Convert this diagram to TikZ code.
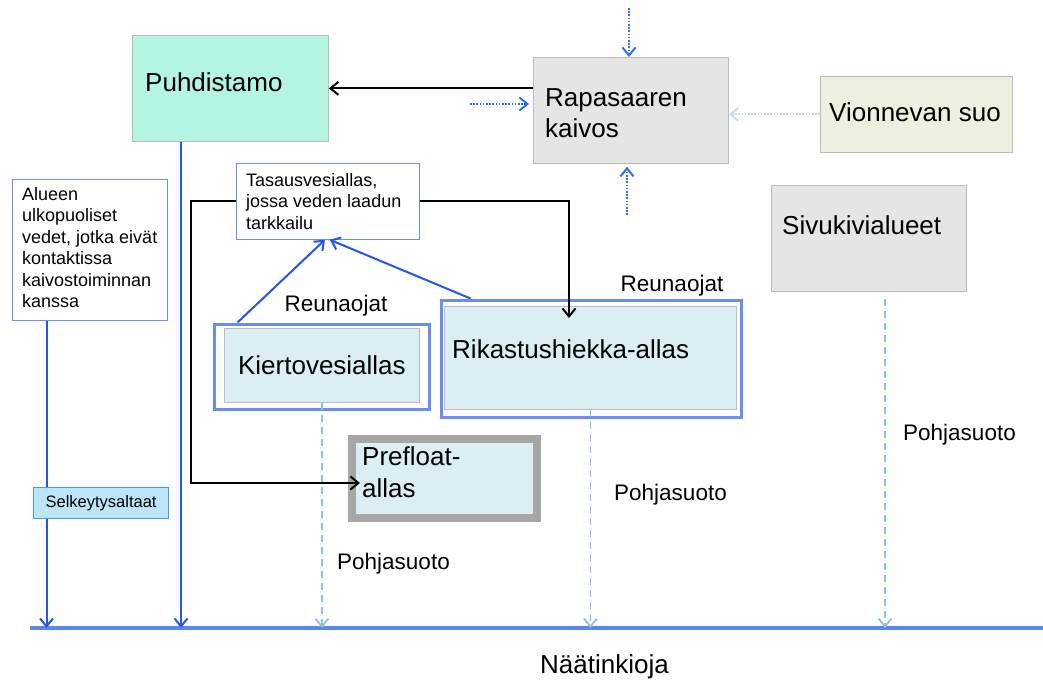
\documentclass[tikz,border=0pt]{standalone}
\usepackage{fontspec}
\setmainfont{Liberation Sans}
\usetikzlibrary{arrows.meta}

\definecolor{mint}{HTML}{B4F5E2}
\definecolor{minegrey}{HTML}{E5E5E5}
\definecolor{boxedge}{HTML}{BBBBBB}
\definecolor{suogreen}{HTML}{EBF1DE}
\definecolor{poolblue}{HTML}{DAEEF3}
\definecolor{innergrey}{HTML}{BDBDBD}
\definecolor{edgeblue}{HTML}{6A8DF2}
\definecolor{flowblue}{HTML}{2456EE}
\definecolor{dotblue}{HTML}{2F6BF2}
\definecolor{seepcyan}{HTML}{8BC4DA}
\definecolor{faintblue}{HTML}{C6DCEE}
\definecolor{selkfill}{HTML}{BDE5F8}
\definecolor{selkedge}{HTML}{3E9FE6}
\definecolor{prefloatgrey}{HTML}{A6A6A6}
\definecolor{ditchblue}{HTML}{5C88EE}

\tikzset{
  >={Straight Barb[length=8pt,width=13pt]},
  box/.style={draw=boxedge, line width=0.8pt, anchor=north west, inner sep=0pt},
  bigtext/.style={font=\fontsize{26}{31}\selectfont, anchor=west, align=left, inner sep=0pt},
  smalltext/.style={font=\fontsize{18}{21.5}\selectfont, anchor=north west, align=left, inner sep=0pt},
  labeltext/.style={font=\fontsize{22.5}{26}\selectfont, inner sep=0pt},
  flow/.style={->, draw=flowblue, line width=2pt},
  feed/.style={->, draw=black, line width=2pt},
  rain/.style={->, draw=dotblue, line width=2pt, dash pattern=on 1.6pt off 1.6pt},
  seep/.style={->, draw=seepcyan, line width=1.8pt, dash pattern=on 7pt off 5pt},
}

\begin{document}
\begin{tikzpicture}[x=1pt, y=-1pt]
\useasboundingbox (0,0) rectangle (1043,682);

% laitokset ja alueet
\node[box, fill=mint, minimum width=196pt, minimum height=106pt] (puhdistamo) at (132,35) {};
\node[bigtext] (puhdistamotext) at (145,82) {Puhdistamo};
\node[box, fill=minegrey, minimum width=195pt, minimum height=106pt] (kaivos) at (533,57) {};
\node[bigtext] (kaivostext) at (545,113) {Rapasaaren\\kaivos};
\node[box, fill=suogreen, minimum width=192pt, minimum height=76pt] (suo) at (820,76) {};
\node[bigtext] (suotext) at (829,112) {Vionnevan suo};
\node[box, fill=minegrey, minimum width=195pt, minimum height=106pt] (sivukivi) at (771,185) {};
\node[bigtext] (sivukivitext) at (782,225) {Sivukivialueet};

\node[box, draw=edgeblue, fill=white, minimum width=155pt, minimum height=141pt] (alueen) at (12,179) {};
\node[smalltext] (alueentext) at (22,187) {Alueen\\ulkopuoliset\\vedet, jotka eivät\\kontaktissa\\kaivostoiminnan\\kanssa};
\node[box, draw=edgeblue, fill=white, minimum width=183pt, minimum height=76pt] (tasaus) at (236,163) {};
\node[smalltext] (tasaustext) at (246,173) {Tasausvesiallas,\\jossa veden laadun\\tarkkailu};

% altaat
\node[box, draw=edgeblue, line width=3pt, minimum width=215pt, minimum height=85pt] (kierto) at (212.5,322.5) {};
\node[box, fill=poolblue, draw=innergrey, minimum width=195pt, minimum height=74pt,
      font=\fontsize{26}{31}\selectfont] (kiertoin) at (224,328) {Kiertovesiallas};
\node[box, draw=edgeblue, line width=3pt, minimum width=300pt, minimum height=117pt] (rikastus) at (439.5,298.5) {};
\node[box, fill=poolblue, draw=innergrey, minimum width=292pt, minimum height=103pt] (rikastusin) at (444,306) {};
\node[bigtext] (rikastustext) at (452,349) {Rikastushiekka-allas};
\node[box, fill=poolblue, draw=prefloatgrey, line width=8pt, minimum width=185pt, minimum height=79pt] (prefloat) at (348,435) {};
\node[bigtext, font=\fontsize{26}{32}\selectfont] (prefloattext) at (362,472) {Prefloat-\\allas};
\node[box, fill=selkfill, draw=selkedge, line width=1.2pt, minimum width=135pt, minimum height=31pt,
      font=\fontsize{16.5}{20}\selectfont] (selkeytys) at (33,487) {Selkeytysaltaat};

% tekstit
\node[labeltext] (reuna1) at (336,306) {Reunaojat};
\node[labeltext] (reuna2) at (672,286) {Reunaojat};
\node[labeltext, anchor=west] (pohja1) at (337,564) {Pohjasuoto};
\node[labeltext, anchor=west] (pohja2) at (614,495) {Pohjasuoto};
\node[labeltext, anchor=west] (pohja3) at (903,435) {Pohjasuoto};
\node[bigtext] (oja) at (540,667) {Näätinkioja};

% Näätinkioja
\coordinate (ojaW) at (30,628);
\coordinate (ojaE) at (1043,628);
\draw[ditchblue, line width=4pt] (ojaW) -- (ojaE);

\coordinate (alueout) at ([xshift=34.5pt]alueen.south west);
\coordinate (puhout) at ([xshift=49pt]puhdistamo.south west);
\coordinate (sivuout) at ([xshift=114pt,yshift=-7pt]sivukivi.south west);
\coordinate (preflin) at ([xshift=12pt,yshift=-4.5pt]prefloat.west);
\coordinate (rikasin) at ([xshift=125pt,yshift=-12pt]rikastusin.north west);
\coordinate (raintop) at (629,8);
\coordinate (rainbot) at (627,215);
\coordinate (rainleft) at (470,104);

\draw[flowblue, line width=2pt] (alueout) -- (alueout |- selkeytys.north);
\draw[flow] (alueout |- selkeytys.south) -- (alueout |- ojaW);
\draw[flow] (puhout) -- (puhout |- ojaW);
\draw[seep] (kiertoin.south) -- (kiertoin.south |- ojaW);
\draw[seep] (rikastusin.south) -- (rikastusin.south |- ojaW);
\draw[seep] (sivuout) -- (sivuout |- ojaW);

\draw[feed] (kaivos.west |- puhdistamo.east) -- (puhdistamo.east);
\draw[feed] (tasaus.west) -- ++(-45,0) |- (preflin);
\draw[feed] (tasaus.east) -| (rikasin);
\draw[flow] ([xshift=25pt]kierto.north west) -- ([xshift=-3pt]tasaus.south);
\draw[flow] ([xshift=31pt]rikastus.north west) -- ([xshift=2pt]tasaus.south);

\draw[rain] (raintop) -- (raintop |- kaivos.north);
\draw[rain, shorten >=3pt] (rainbot) -- (rainbot |- kaivos.south);
\draw[rain, shorten >=4pt] (rainleft) -- (kaivos.west |- rainleft);
\draw[rain, draw=faintblue] (suo.west) -- (kaivos.east |- suo.west);

\end{tikzpicture}
\end{document}
